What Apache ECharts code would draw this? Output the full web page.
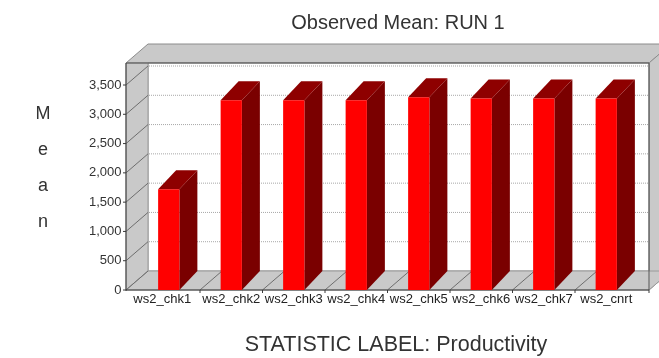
<!DOCTYPE html>
<html>
<head>
<meta charset="utf-8">
<script src="https://cdn.jsdelivr.net/npm/echarts@6/dist/echarts.min.js"></script>
<style>
  html, body { margin: 0; padding: 0; background: #ffffff; }
  #chart { width: 659px; height: 358px; }
</style>
</head>
<body>
<div id="chart"></div>
<script>
// Observed mean productivity per run statistic
const categories = ['ws2_chk1', 'ws2_chk2', 'ws2_chk3', 'ws2_chk4', 'ws2_chk5', 'ws2_chk6', 'ws2_chk7', 'ws2_cnrt'];
const meanValues = [1720, 3240, 3240, 3240, 3290, 3270, 3270, 3270];
const yMin = 0;
const yMax = 3500;
const yStep = 500;

const chartTitle = 'Observed Mean: RUN 1';
const xTitle = 'STATISTIC LABEL: Productivity';
const yTitle = 'Mean';

// 3-D look: oblique offsets for the frame walls and the bar blocks (px)
const WALL_DX = 22, WALL_DY = -19;
const BAR_DX = 18, BAR_DY = -19;
const FRAME_PAD = 11.5;   // frame reaches past the outer category bands
const FRAME_HEAD = 22;    // frame top sits above the highest tick
const WALL_GRAY = '#c9c9c9';
const EDGE = '#3a3a3a';
const FONT = '"Liberation Sans", Arial, sans-serif';

const chart = echarts.init(document.getElementById('chart'), null, { renderer: 'canvas' });

function line(x1, y1, x2, y2, style) {
  return { type: 'line', shape: { x1, y1, x2, y2 }, style: Object.assign({ stroke: EDGE, lineWidth: 1 }, style || {}) };
}

// Box frame: lid, side walls, floor, back wall with dotted grid
function renderFrame(params, api) {
  const cs = params.coordSys;
  const x0 = cs.x - FRAME_PAD;
  const x1 = cs.x + cs.width + FRAME_PAD;
  const yBase = api.coord([0, yMin])[1];
  const yTop = api.coord([0, yMax])[1] - FRAME_HEAD;
  const bx0 = x0 + WALL_DX;
  const yBack = yBase + WALL_DY;
  const band = api.size([1, 0])[0];
  const kids = [];

  // lid
  kids.push({ type: 'polygon', shape: { points: [[x0, yTop], [x1, yTop], [x1 + WALL_DX, yTop + WALL_DY], [x0 + WALL_DX, yTop + WALL_DY]] },
    style: { fill: WALL_GRAY, stroke: '#8c8c8c', lineWidth: 1 } });
  // right wall
  kids.push({ type: 'polygon', shape: { points: [[x1, yTop], [x1 + WALL_DX, yTop + WALL_DY], [x1 + WALL_DX, yBack], [x1, yBase]] },
    style: { fill: WALL_GRAY, stroke: '#8c8c8c', lineWidth: 1 } });
  // back wall
  kids.push({ type: 'rect', shape: { x: bx0, y: yTop, width: x1 - bx0, height: yBack - yTop },
    style: { fill: '#ffffff', stroke: '#8c8c8c', lineWidth: 1 } });
  // left wall
  kids.push({ type: 'polygon', shape: { points: [[x0, yTop], [bx0, yTop], [bx0, yBack], [x0, yBase]] },
    style: { fill: WALL_GRAY, stroke: '#9a9a9a', lineWidth: 1 } });
  // floor
  kids.push({ type: 'polygon', shape: { points: [[x0, yBase], [bx0, yBack], [x1 + WALL_DX, yBack], [x1, yBase]] },
    style: { fill: WALL_GRAY, stroke: '#9a9a9a', lineWidth: 1 } });

  // value levels: dotted grid on the back wall, diagonals on the left wall, front ticks
  for (let v = yMin; v <= yMax; v += yStep) {
    const y = api.coord([0, v])[1];
    if (v > yMin) {
      kids.push(line(bx0 + 1, y + WALL_DY, x1, y + WALL_DY, { stroke: '#a8a8a8', lineDash: [1, 1] }));
    }
    kids.push(line(x0, y, bx0, y + WALL_DY, { stroke: '#6e6e6e' }));
    kids.push(line(x0 - 3, y, x0, y, { stroke: EDGE }));
  }
  // category boundaries: diagonals on the floor and ticks under the front edge
  for (let k = 1; k < categories.length; k++) {
    const xb = api.coord([k, 0])[0] - band / 2;
    kids.push(line(xb, yBase, xb + WALL_DX, yBack, { stroke: '#6e6e6e' }));
    kids.push(line(xb, yBase, xb, yBase + 3, { stroke: EDGE }));
  }
  kids.push(line(x1, yBase, x1, yBase + 3, { stroke: EDGE }));

  // front edges of the frame
  kids.push(line(x0, yTop, x1, yTop, { stroke: '#555555' }));
  kids.push(line(x0, yTop, x0, yBase + 1, { stroke: EDGE }));
  kids.push(line(x1, yTop, x1, yBase, { stroke: '#555555' }));
  kids.push(line(x0, yBase, x1, yBase, { stroke: EDGE }));

  return { type: 'group', children: kids };
}

// Solid block bar: red front, dark side and top
function renderBar(params, api) {
  const i = api.value(0);
  const v = api.value(1);
  const base = api.coord([i, yMin]);
  const top = api.coord([i, v]);
  const band = api.size([1, 0])[0];
  const w = band * 0.34;
  const xl = base[0] - w / 2;
  const xr = xl + w;
  const yt = top[1], yb = base[1];
  return {
    type: 'group',
    children: [
      { type: 'polygon', shape: { points: [[xr, yt], [xr + BAR_DX, yt + BAR_DY], [xr + BAR_DX, yb + BAR_DY], [xr, yb]] },
        style: { fill: '#7a0000' } },
      { type: 'polygon', shape: { points: [[xl, yt], [xr, yt], [xr + BAR_DX, yt + BAR_DY], [xl + BAR_DX, yt + BAR_DY]] },
        style: { fill: '#8e0000' } },
      { type: 'rect', shape: { x: xl, y: yt, width: w, height: yb - yt }, style: { fill: '#ff0000' } }
    ]
  };
}

const option = {
  animation: false,
  backgroundColor: '#ffffff',
  textStyle: { fontFamily: FONT },
  title: [
    { text: chartTitle, left: 393, top: 8, textAlign: 'center',
      textStyle: { fontFamily: FONT, fontSize: 20, fontWeight: 'normal', color: '#333333' } },
    { text: xTitle, left: 391, top: 329, textAlign: 'center',
      textStyle: { fontFamily: FONT, fontSize: 21.5, fontWeight: 'normal', color: '#333333' } },
    // vertical, letter-stacked axis title
    { text: yTitle.split('').join('\n'), left: 38, top: 91, textAlign: 'center',
      textStyle: { fontFamily: FONT, fontSize: 18, lineHeight: 36, fontWeight: 'normal', color: '#333333' } }
  ],
  grid: { left: 137.5, right: 21.5, top: 85, bottom: 68 },
  xAxis: {
    type: 'category',
    data: categories,
    axisLine: { show: false },
    axisTick: { show: false },
    axisLabel: {
      interval: 0, margin: 3, fontSize: 13, color: '#222222', fontFamily: FONT,
      // the first label is nudged left, clear of the frame corner
      formatter: (val, idx) => (idx === 0 ? '{first|' + val + '}' : val),
      rich: { first: { fontSize: 13, fontFamily: FONT, color: '#222222', padding: [0, 13, 0, 0] } }
    },
    splitLine: { show: false }
  },
  yAxis: {
    type: 'value',
    min: yMin,
    max: yMax,
    interval: yStep,
    axisLine: { show: false },
    axisTick: { show: false },
    splitLine: { show: false },
    axisLabel: {
      margin: 16,
      fontSize: 13,
      color: '#333333',
      fontFamily: FONT,
      padding: [0, 0, 6, 0],
      formatter: (v) => v.toLocaleString('en-US')
    }
  },
  series: [
    { type: 'custom', name: 'frame', renderItem: renderFrame, data: [[0, 0]], z: 1, silent: true },
    { type: 'custom', name: 'Mean', renderItem: renderBar, z: 2,
      data: meanValues.map((v, i) => [i, v]) }
  ]
};

chart.setOption(option);
</script>
</body>
</html>
